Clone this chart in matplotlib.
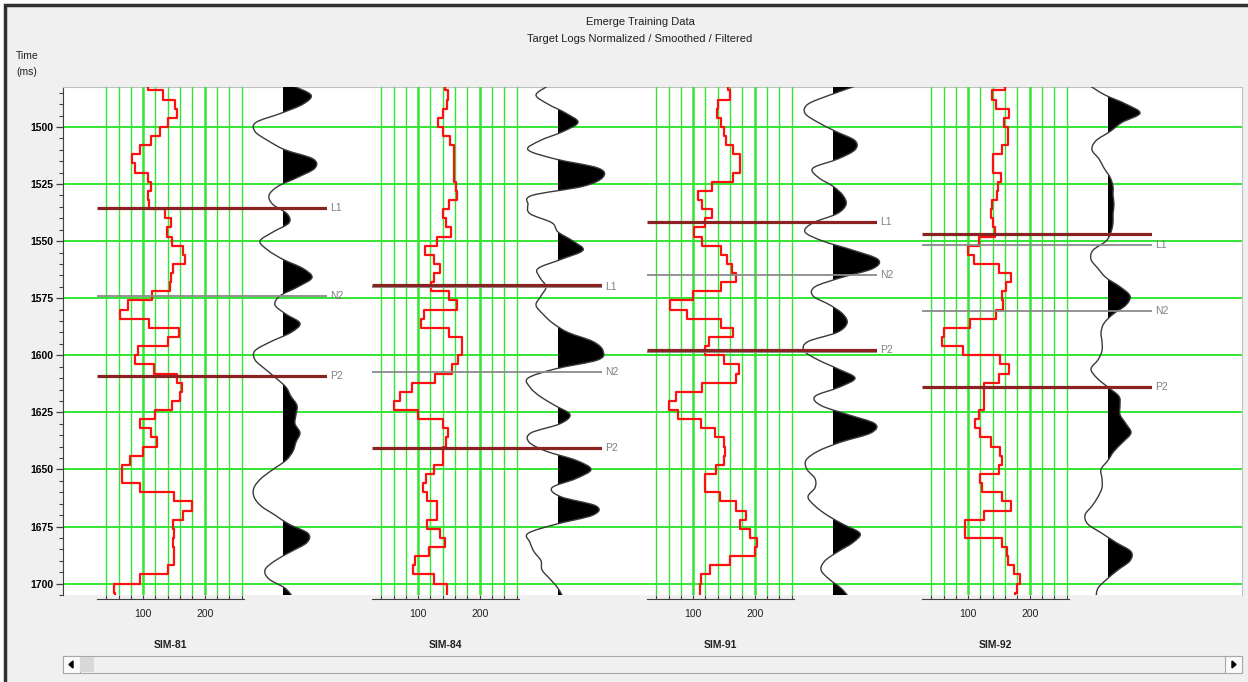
import matplotlib.pyplot as plt
from matplotlib.patches import Rectangle, Polygon, PathPatch
from matplotlib.path import Path
from matplotlib.ticker import MultipleLocator
import numpy as np

plt.rcParams['font.family'] = ['Liberation Sans', 'DejaVu Sans']

W, H = 1248, 682

# sample times (ms), 4 ms sampling for logs and traces
times = np.arange(1482, 1707, 4)

wells = ["SIM-81", "SIM-84", "SIM-91", "SIM-92"]

# target logs (normalized / smoothed / filtered)
log_81 = [108, 132, 152, 155, 140, 128, 112, 95, 82, 86,
          108, 113, 108, 110, 135, 145, 138, 147, 165, 168,
          148, 146, 144, 115, 75, 62, 110, 158, 140, 92,
          87, 118, 155, 163, 160, 147, 120, 95, 112, 122,
          100, 78, 65, 66, 95, 150, 180, 165, 148, 150,
          148, 150, 151, 140, 95, 52, 54]
log_84 = [144, 149, 147, 141, 133, 140, 152, 158, 158, 158,
          159, 161, 163, 150, 141, 145, 154, 130, 111, 126,
          136, 126, 121, 150, 163, 110, 105, 150, 172, 172,
          165, 155, 128, 90, 70, 60, 100, 141, 149, 146,
          141, 140, 125, 112, 108, 115, 130, 130, 115, 135,
          144, 118, 95, 92, 125, 147, 147]
log_91 = [157, 160, 140, 139, 146, 150, 154, 165, 176, 176,
          165, 130, 108, 114, 131, 120, 102, 115, 145, 155,
          164, 170, 145, 100, 63, 90, 145, 165, 125, 119,
          150, 175, 170, 115, 72, 60, 75, 112, 135, 150,
          152, 150, 137, 119, 119, 144, 170, 186, 177, 192,
          204, 200, 160, 128, 113, 111, 111]
log_92 = [160, 138, 145, 166, 158, 165, 165, 155, 141, 141,
          153, 149, 147, 138, 137, 141, 143, 118, 100, 110,
          150, 169, 161, 155, 157, 145, 103, 60, 58, 92,
          152, 166, 150, 125, 125, 125, 118, 111, 120, 137,
          152, 155, 150, 120, 122, 155, 169, 125, 95, 95,
          155, 163, 165, 175, 184, 180, 177]

# seismic traces at the wells (amplitude)
trace_81 = [10, 28, 20, -2, -27, -28, -15, 2, 30, 32,
            15, -5, -14, -10, 4, 6, -10, -23, -15, 0,
            20, 29, 15, -3, -8, 3, 17, 8, -12, -28,
            -28, -18, -7, 3, 8, 14, 13, 12, 17, 13,
            10, 3, -10, -22, -29, -29, -22, -8, 6, 25,
            24, 8, -8, -18, -14, 2, 10]
trace_84 = [-10, -22, -10, 8, 20, 5, -18, -30, -3, 40,
            45, 25, -26, -30, -28, -6, 0, 15, 25, 3,
            -20, -18, -12, -17, -22, -15, -5, 10, 35, 45,
            40, -3, -30, -28, -18, -3, 12, 2, -27, -29,
            -12, 18, 33, 18, -6, 3, 38, 35, -2, -30,
            -28, -24, -17, -16, -8, 0, 5]
trace_91 = [23, -3, -25, -28, -15, 3, 22, 22, 5, -20,
            -15, 0, 10, 13, 4, -20, -28, -10, 20, 45,
            40, 8, -18, -20, -3, 10, 14, 4, -25, -29,
            -15, 5, 22, 6, -18, -12, 15, 42, 38, 8,
            -15, -27, -26, -18, -18, -25, -18, -6, 10, 27,
            20, 5, -8, -12, -4, 8, 16]
trace_92 = [-18, -3, 18, 32, 14, 2, -12, -16, -9, -4,
            2, 5, 5, 6, 5, 5, 3, -2, -15, -17,
            -10, -2, 12, 22, 18, 5, -4, -7, -6, -6,
            -10, -17, -11, 0, 11, 12, 12, 18, 23, 15,
            6, 0, -7, -6, -6, -10, -16, -23, -20, -6,
            8, 23, 22, 10, -1, -10, -12]

# horizon picks: (label, time ms, kind)
horizons_81 = [("L1", 1535.5, "pick"), ("N2", 1574.0, "ref"), ("P2", 1609.1, "pick")]
horizons_84 = [("L1", 1569.9, "ref"), ("", 1569.3, "pick"), ("N2", 1607.2, "ref"), ("P2", 1640.8, "pick")]
horizons_91 = [("L1", 1541.8, "pick"), ("N2", 1564.8, "ref"), ("", 1598.5, "ref"), ("P2", 1597.7, "pick")]
horizons_92 = [("", 1547.1, "pick"), ("L1", 1551.8, "ref"), ("N2", 1580.4, "ref"), ("P2", 1613.8, "pick")]

logs = [log_81, log_84, log_91, log_92]
traces = [trace_81, trace_84, trace_91, trace_92]
horizons = [horizons_81, horizons_84, horizons_91, horizons_92]

t_top, t_bottom = 1482.5, 1705.0
green = "#33e633"
pick_red = "#8b2222"
ref_gray = "#8a8a8a"

fig = plt.figure(figsize=(W / 100, H / 100), dpi=100, facecolor="white")


def px_axes(x0, y0, w, h):
    return fig.add_axes([x0 / W, 1 - (y0 + h) / H, w / W, h / H])


def smooth_path(x, y):
    # cubic Bezier (Catmull-Rom) through the samples, so the wiggle draws smooth
    pts = np.column_stack([x, y])
    p = np.vstack([pts[0], pts, pts[-1]])
    verts = [pts[0]]
    codes = [Path.MOVETO]
    for k in range(len(pts) - 1):
        p0, p1, p2, p3 = p[k], p[k + 1], p[k + 2], p[k + 3]
        verts += [p1 + (p2 - p0) / 6, p2 - (p3 - p1) / 6, p2]
        codes += [Path.CURVE4] * 3
    return verts, codes


# window chrome
chrome = px_axes(0, 0, W, H)
chrome.set_xlim(0, W)
chrome.set_ylim(H, 0)
chrome.axis("off")
chrome.add_patch(Rectangle((5, 5), W, H, facecolor="#f0f0f0", edgecolor="#303030", lw=2.5))
chrome.add_patch(Rectangle((63, 656), 1179, 17, facecolor="#f0f0f0", edgecolor="#a8a8a8", lw=0.8))
chrome.add_patch(Rectangle((63, 656), 17, 17, facecolor="#fafafa", edgecolor="#a8a8a8", lw=0.8))
chrome.add_patch(Rectangle((80, 657), 14, 15, facecolor="#d8d8d8", edgecolor="none"))
chrome.add_patch(Rectangle((1225, 656), 17, 17, facecolor="#fafafa", edgecolor="#a8a8a8", lw=0.8))
chrome.add_patch(Polygon([(73, 661), (73, 668), (69, 664.5)], color="black"))
chrome.add_patch(Polygon([(1232, 661), (1232, 668), (1236, 664.5)], color="black"))

fig.text(640 / W, 1 - 22 / H, "Emerge Training Data", ha="center", va="center", fontsize=8, color="#202020")
fig.text(640 / W, 1 - 39 / H, "Target Logs Normalized / Smoothed / Filtered", ha="center", va="center",
         fontsize=8, color="#202020")
fig.text(16 / W, 1 - 56 / H, "Time", ha="left", va="center", fontsize=7.5, color="#202020")
fig.text(16 / W, 1 - 72 / H, "(ms)", ha="left", va="center", fontsize=7.5, color="#202020")

# main time axis
ax = px_axes(63, 87, 1179, 508)
ax.set_facecolor("white")
ax.set_xlim(0, 1)
ax.set_ylim(t_bottom, t_top)
ax.set_xticks([])
ax.yaxis.set_major_locator(MultipleLocator(25))
ax.yaxis.set_minor_locator(MultipleLocator(5))
ax.grid(axis="y", which="major", color=green, lw=1.4)
ax.tick_params(axis="y", which="major", length=5, width=0.9, color="#404040", labelsize=7.5, pad=2)
ax.tick_params(axis="y", which="minor", length=3, width=0.8, color="#404040")
for lab in ax.get_yticklabels():
    lab.set_fontweight("bold")
ax.spines["left"].set_color("#404040")
ax.spines["bottom"].set_visible(False)
ax.spines["top"].set_color("#c0c0c0")
ax.spines["right"].set_color("#c0c0c0")
ax.spines["top"].set_linewidth(0.8)
ax.spines["right"].set_linewidth(0.8)

for i, name in enumerate(wells):
    x0 = 97 + 275 * i

    # log track
    lx = px_axes(x0, 87, 147, 508)
    lx.patch.set_alpha(0)
    lx.set_xlim(25, 264)
    lx.set_ylim(t_bottom, t_top)
    lx.set_yticks([])
    lx.set_xticks([100, 200])
    lx.set_xticks(np.arange(40, 261, 20), minor=True)
    lx.grid(axis="x", which="minor", color=green, lw=1.0)
    lx.grid(axis="x", which="major", color=green, lw=1.8)
    lx.set_axisbelow(True)
    for s in ["top", "right", "left"]:
        lx.spines[s].set_visible(False)
    lx.spines["bottom"].set_position(("outward", 3))
    lx.spines["bottom"].set_color("#404040")
    lx.tick_params(axis="x", which="both", direction="in", length=3, width=0.8, color="#404040",
                   labelsize=7.5, pad=7, labelcolor="#202020")
    vals = np.asarray(logs[i], dtype=float)
    y_step = np.column_stack([times - 2, times + 2]).ravel()
    x_step = np.repeat(vals, 2)
    lx.plot(x_step, y_step, color="#ff1010", lw=1.6)

    # seismic trace, wiggle with positive lobes filled black
    tx = px_axes(x0 + 146, 87, 100, 508)
    tx.set_xlim(-40, 60)
    tx.set_ylim(t_bottom, t_top)
    tx.axis("off")
    amp = np.asarray(traces[i], dtype=float)
    verts, codes = smooth_path(amp, times)
    fill_verts = verts + [(0, times[-1]), (0, times[0]), (0, times[0])]
    fill_codes = codes + [Path.LINETO, Path.LINETO, Path.CLOSEPOLY]
    lobes = tx.add_patch(PathPatch(Path(fill_verts, fill_codes), facecolor="black", edgecolor="none"))
    lobes.set_clip_path(Rectangle((0, t_top), 60, t_bottom - t_top, transform=tx.transData))
    tx.add_patch(PathPatch(Path(verts, codes), facecolor="none", edgecolor="#3a3a3a", lw=1.0))

    # horizons
    hx = px_axes(x0, 87, 230, 508)
    hx.set_xlim(0, 1)
    hx.set_ylim(t_bottom, t_top)
    hx.axis("off")
    for label, t, kind in horizons[i]:
        if kind == "pick":
            hx.axhline(t, color=pick_red, lw=2.3, solid_capstyle="butt")
        else:
            hx.axhline(t, color=ref_gray, lw=1.3, solid_capstyle="butt")
        if label:
            hx.text(1.012, t, label, ha="left", va="center", fontsize=7.5, color="#808080")

    fig.text((x0 + 73.5) / W, 1 - 645 / H, name, ha="center", va="center", fontsize=7.5,
             fontweight="bold", color="#202020")

fig.savefig("out.png", dpi=100, facecolor=fig.get_facecolor())
